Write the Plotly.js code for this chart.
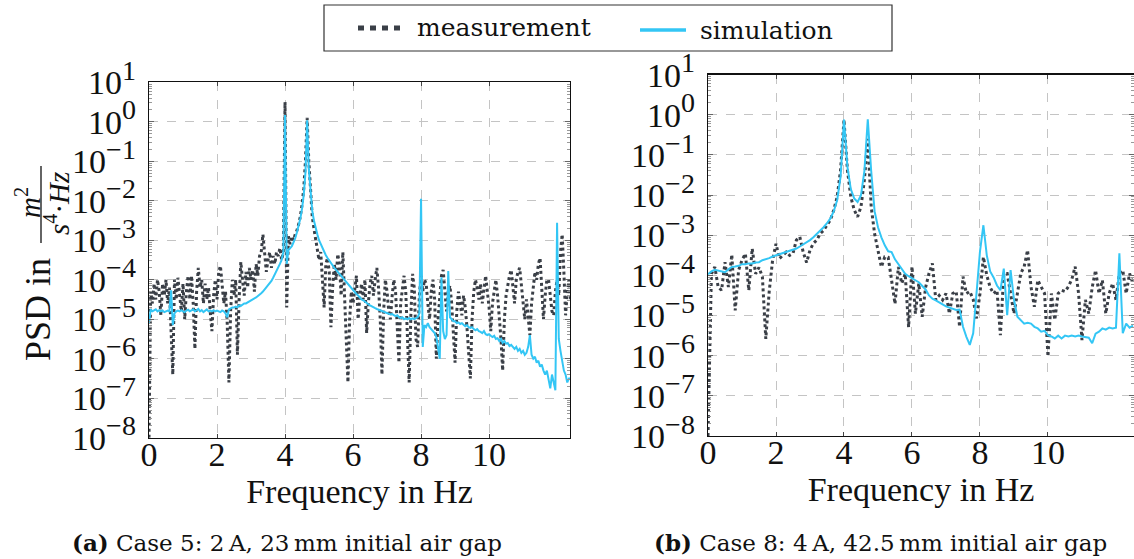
<!DOCTYPE html>
<html>
<head>
<meta charset="utf-8">
<script src="https://cdn.plot.ly/plotly-3.0.1.min.js"></script>
<style>html,body{margin:0;padding:0;background:#fff;}#chart{width:1134px;height:559px;}</style>
</head>
<body>
<div id="chart"></div>
<script>
// ---- data (log10 of PSD) ----
// Case 5 (left): measurement, frequency step 0.05 Hz starting at 0 Hz
const measA_log10 = [
 -8.0,-4.3,-4.6,-4.1,-4.5,-4.0,-4.3,-4.9,-4.1,-4.4,-4.0,-4.6,-4.2,-5.2,-6.4,-4.0,-4.5,-3.95,-4.3,-4.8,
 -4.1,-5.0,-4.3,-3.9,-4.5,-3.9,-4.6,-5.75,-4.3,-3.7,-4.2,-4.0,-4.6,-4.1,-4.5,-4.2,-4.8,-5.3,-4.4,-4.0,
 -4.5,-3.8,-3.65,-4.2,-4.6,-4.3,-5.1,-6.6,-4.8,-4.0,-4.4,-4.0,-5.9,-4.5,-3.55,-4.0,-4.4,-3.8,-4.2,-3.7,
 -4.0,-3.75,-4.3,-3.6,-3.9,-3.4,-3.3,-2.85,-3.3,-3.8,-3.5,-3.3,-3.7,-3.4,-3.6,-3.3,-3.4,-3.2,-3.5,-3.3,
 0.5,-4.7,-2.9,-3.1,-2.9,-3.0,-2.85,-2.75,-2.6,-2.4,-2.1,-1.7,-1.0,0.1,-1.0,-1.8,-2.4,-2.7,-3.0,-3.2,
 -3.5,-3.3,-3.9,-4.7,-3.6,-3.45,-3.8,-5.2,-4.2,-3.6,-4.0,-3.35,-3.6,-4.4,-3.3,-4.5,-5.8,-6.6,-5.0,-4.3,
 -4.6,-4.2,-3.9,-5.0,-4.4,-4.1,-4.5,-4.0,-5.35,-4.6,-4.1,-3.9,-4.4,-4.0,-3.7,-4.2,-5.0,-6.4,-4.8,-4.0,
 -4.3,-4.8,-5.0,-4.4,-4.0,-4.3,-5.3,-6.1,-4.6,-4.2,-3.9,-4.3,-5.4,-6.6,-4.9,-3.85,-4.2,-5.5,-5.7,-4.4,
 -3.9,-4.3,-4.0,-4.1,-4.6,-5.0,-4.3,-4.0,-4.5,-6.0,-5.0,-4.3,-3.9,-3.75,-4.2,-4.8,-4.3,-4.15,-4.6,-5.4,
 -6.1,-4.8,-4.3,-4.6,-4.9,-4.4,-4.7,-5.2,-5.8,-6.5,-5.0,-4.3,-4.0,-4.2,-4.5,-4.1,-4.6,-4.2,-3.9,-4.3,
 -4.7,-5.3,-4.6,-4.3,-4.0,-4.4,-4.9,-5.5,-6.3,-5.0,-4.4,-4.1,-3.9,-3.75,-4.2,-4.6,-4.0,-3.8,-3.7,-4.2,
 -4.7,-5.0,-4.5,-4.9,-5.4,-4.6,-4.1,-3.8,-4.0,-3.6,-3.45,-4.1,-5.0,-4.4,-4.0,-4.0,-4.4,-4.8,-4.9,-4.3,
 -4.0,-4.4,-3.3,-2.85,-3.8,-4.9,-4.3,-4.0,-4.5
];
// Case 5 (left): simulation, frequency step 0.05 Hz starting at 0 Hz
const simA_log10 = [
 -5.1,-4.75,-4.8,-4.78,-4.75,-4.8,-4.77,-4.8,-4.78,-4.82,-4.8,-4.78,-4.8,-4.27,-5.15,-4.85,-4.8,-4.78,-4.8,-4.77,
 -4.8,-4.82,-4.78,-4.76,-4.8,-4.77,-4.75,-4.8,-4.78,-4.74,-4.8,-4.77,-4.82,-4.78,-4.75,-4.8,-4.78,-4.8,-4.77,-4.8,
 -4.78,-4.8,-4.82,-4.78,-4.8,-4.85,-4.95,-4.75,-4.72,-4.7,-4.7,-4.68,-4.7,-4.65,-4.66,-4.62,-4.6,-4.6,-4.57,-4.55,
 -4.52,-4.5,-4.47,-4.45,-4.42,-4.38,-4.34,-4.3,-4.25,-4.2,-4.15,-4.1,-4.03,-3.95,-3.87,-3.78,-3.7,-3.6,-3.5,-3.3,
 0.17,-3.6,-3.25,-3.2,-3.15,-3.05,-2.95,-2.8,-2.65,-2.45,-2.2,-1.85,-1.3,0.04,-1.2,-1.85,-2.25,-2.5,-2.7,-2.85,
 -3.0,-3.1,-3.2,-3.3,-3.38,-3.45,-3.52,-3.58,-3.64,-3.7,-3.75,-3.8,-3.86,-3.92,-3.97,-4.02,-4.08,-4.13,-4.18,-4.22,
 -4.27,-4.32,-4.36,-4.4,-4.45,-4.5,-4.52,-4.56,-4.6,-4.62,-4.65,-4.68,-4.7,-4.72,-4.74,-4.76,-4.78,-4.8,-4.82,-4.83,
 -4.85,-4.86,-4.88,-4.87,-4.9,-4.92,-4.9,-4.95,-4.97,-4.95,-5.0,-4.98,-5.0,-4.97,-5.0,-4.98,-5.0,-4.97,-4.95,-4.85,
 -1.95,-5.7,-5.15,-5.2,-5.1,-5.2,-5.25,-5.3,-5.35,-5.45,-5.7,-6.0,-3.94,-5.3,-5.5,-5.4,-3.78,-4.95,-5.0,-5.05,
 -5.05,-5.1,-5.08,-5.12,-5.1,-5.15,-5.18,-5.15,-5.2,-5.22,-5.2,-5.25,-5.28,-5.25,-5.3,-5.32,-5.35,-5.3,-5.38,-5.4,
 -5.38,-5.42,-5.45,-5.42,-5.5,-5.48,-5.55,-5.5,-5.6,-5.55,-5.62,-5.6,-5.68,-5.65,-5.7,-5.75,-5.7,-5.8,-5.75,-5.85,
 -5.8,-5.9,-5.85,-5.7,-5.4,-5.9,-6.0,-5.95,-6.1,-6.05,-6.2,-6.15,-6.3,-6.4,-6.3,-6.5,-6.75,-6.4,-6.6,-6.8,
 -2.56,-5.5,-5.8,-6.1,-6.3,-6.4,-6.6,-6.5,-6.5
];
// Case 8 (right): measurement, frequency step 0.1 Hz starting at 0 Hz
const measB_log10 = [
 -8.0,-3.96,-3.79,-4.29,-4.37,-3.67,-4.29,-3.48,-4.87,-3.87,
 -3.62,-3.46,-4.37,-3.33,-3.96,-3.8,-4.04,-5.58,-4.4,-3.62,
 -3.21,-3.58,-3.5,-3.42,-3.5,-3.45,-3.12,-3.04,-3.42,-3.68,
 -3.37,-3.2,-3.12,-2.96,-2.88,-2.75,-2.62,-2.37,-2.04,-1.37,
 -0.12,-1.37,-2.04,-2.37,-2.54,-2.29,-1.62,-0.6,-2.29,-2.96,
 -3.37,-3.79,-3.54,-3.55,-4.12,-4.71,-3.79,-4.2,-3.96,-5.29,
 -3.78,-4.95,-4.2,-5.03,-4.3,-3.95,-3.7,-4.61,-4.5,-4.61,
 -4.45,-4.95,-4.45,-4.4,-5.28,-4.03,-4.45,-4.4,-4.6,-5.07,
 -4.45,-3.54,-4.0,-4.3,-4.45,-4.37,-5.49,-3.95,-3.95,-4.5,
 -4.95,-4.45,-3.95,-3.78,-3.37,-4.28,-4.78,-4.12,-4.3,-4.45,
 -6.02,-4.45,-5.11,-4.45,-4.37,-4.4,-4.28,-4.1,-3.78,-4.45,
 -5.61,-4.61,-4.95,-4.3,-3.87,-4.45,-4.12,-4.95,-4.45,-4.2,
 -4.61,-3.95,-3.87,-4.45,-3.95,-4.2
];
// Case 8 (right): simulation, frequency step 0.1 Hz starting at 0 Hz
const simB_log10 = [
 -3.97,-3.9,-3.86,-3.88,-3.9,-3.92,-3.85,-3.79,-3.78,-3.76,
 -3.72,-3.72,-3.7,-3.7,-3.68,-3.67,-3.62,-3.6,-3.57,-3.53,
 -3.5,-3.47,-3.45,-3.42,-3.4,-3.37,-3.33,-3.28,-3.23,-3.18,
 -3.12,-3.05,-2.97,-2.89,-2.8,-2.7,-2.58,-2.4,-2.12,-1.54,
 -0.12,-1.29,-1.85,-2.08,-2.17,-2.0,-1.4,-0.11,-1.4,-2.4,
 -2.8,-3.05,-3.25,-3.4,-3.42,-3.6,-3.71,-3.85,-3.96,-4.02,
 -4.08,-4.12,-4.17,-4.25,-4.35,-4.5,-4.58,-4.62,-4.66,-4.72,
 -4.77,-4.8,-4.83,-4.86,-4.85,-5.28,-5.53,-5.73,-5.44,-4.45,
 -3.4,-2.75,-3.5,-3.9,-4.05,-4.25,-4.37,-3.83,-4.99,-3.87,
 -4.6,-5.03,-5.12,-5.2,-5.18,-5.2,-5.28,-5.32,-5.4,-5.38,
 -5.49,-5.52,-5.57,-5.5,-5.57,-5.5,-5.52,-5.5,-5.52,-5.5,
 -5.52,-5.53,-5.55,-5.69,-5.45,-5.4,-5.32,-5.35,-5.3,-5.32,
 -5.3,-3.45,-5.44,-5.2,-5.3,-5.25
];
const xTickVals = [0, 2, 4, 6, 8, 10];
const yTickExponents = [-8, -7, -6, -5, -4, -3, -2, -1, 0, 1];
const seriesNames = ['measurement', 'simulation'];
const captionA = '<b>(a)</b> Case 5: 2\u2009A, 23\u2009mm initial air gap';
const captionB = '<b>(b)</b> Case 8: 4\u2009A, 42.5\u2009mm initial air gap';

// ---- styling ----
const W = 1134, H = 559;
const px = v => v / W, py = v => 1 - v / H;
const MEAS_COLOR = '#3a3f47', SIM_COLOR = '#33c6f5';
const SERIF = 'Liberation Serif, DejaVu Serif, serif';
const TEXTFONT = 'DejaVu Serif, serif';
const toVal = arr => arr.map(v => Math.pow(10, v));

const traces = [
  {x0: 0, dx: 0.05, y: toVal(measA_log10), type: 'scatter', mode: 'lines', name: seriesNames[0],
   line: {color: MEAS_COLOR, width: 3, dash: 'dot'}, xaxis: 'x', yaxis: 'y', showlegend: false},
  {x0: 0, dx: 0.05, y: toVal(simA_log10), type: 'scatter', mode: 'lines', name: seriesNames[1],
   line: {color: SIM_COLOR, width: 2}, xaxis: 'x', yaxis: 'y', showlegend: false},
  {x0: 0, dx: 0.1, y: toVal(measB_log10), type: 'scatter', mode: 'lines', name: seriesNames[0],
   line: {color: MEAS_COLOR, width: 3, dash: 'dot'}, xaxis: 'x2', yaxis: 'y2', showlegend: false},
  {x0: 0, dx: 0.1, y: toVal(simB_log10), type: 'scatter', mode: 'lines', name: seriesNames[1],
   line: {color: SIM_COLOR, width: 2}, xaxis: 'x2', yaxis: 'y2', showlegend: false}
];

const tickFont = {family: SERIF, size: 34, color: '#111'};
const yTickVals = yTickExponents.map(e => Math.pow(10, e));
const yTickText = yTickExponents.map(e =>
  '10<sup><span style="font-size:28px">' + (e < 0 ? '\u2212' + (-e) : e) + '</span></sup>');

function xAxis(domain, range, anchor) {
  return {domain, range, anchor, tickvals: xTickVals, ticks: 'inside', ticklen: 4, tickcolor: '#444',
    showline: true, linecolor: '#111', linewidth: 1.3, mirror: 'ticks',
    showgrid: true, gridcolor: '#c4c4c4', griddash: 'dash', gridwidth: 1, zeroline: false,
    tickfont: tickFont, ticklabelstandoff: -14,
    title: {text: 'Frequency in Hz', font: {family: SERIF, size: 34, color: '#111'}, standoff: 0}};
}
function yAxis(domain, anchor) {
  return {domain, anchor, type: 'log', range: [-8, 1], tickvals: yTickVals, ticktext: yTickText,
    ticks: 'inside', ticklen: 5, tickcolor: '#666',
    minor: {dtick: 'D1', ticks: 'inside', ticklen: 3, tickcolor: '#999', showgrid: false},
    showline: true, linecolor: '#111', linewidth: 1.3, mirror: 'allticks',
    showgrid: true, gridcolor: '#c4c4c4', griddash: 'dash', gridwidth: 1, zeroline: false,
    tickfont: tickFont, ticklabelstandoff: 5};
}

const layout = {
  width: W, height: H, margin: {l: 0, r: 0, t: 0, b: 0}, autosize: false,
  paper_bgcolor: '#fff', plot_bgcolor: '#fff',
  font: {family: SERIF, color: '#111'},
  showlegend: false,
  xaxis: xAxis([px(149), px(570)], [0, 12.38], 'y'),
  yaxis: yAxis([py(437.7), py(82.3)], 'x'),
  xaxis2: xAxis([px(708), 1], [0, 12.53], 'y2'),
  yaxis2: yAxis([py(436), py(74.7)], 'x2'),
  shapes: [
    // legend box and samples
    {type: 'rect', xref: 'paper', yref: 'paper', x0: px(324), x1: px(892), y0: py(51), y1: py(5),
     line: {color: '#333', width: 1.2}, fillcolor: '#fff'},
    {type: 'line', xref: 'paper', yref: 'paper', x0: px(358), x1: px(404), y0: py(28), y1: py(28),
     line: {color: MEAS_COLOR, width: 5, dash: '6px,6px'}},
    {type: 'line', xref: 'paper', yref: 'paper', x0: px(640), x1: px(686), y0: py(30), y1: py(30),
     line: {color: SIM_COLOR, width: 3.5}},
    // fraction bar of the y title
    {type: 'line', xref: 'paper', yref: 'paper', x0: px(41), x1: px(41), y0: py(166), y1: py(243),
     line: {color: '#111', width: 1.3}}
  ],
  annotations: [
    {text: seriesNames[0], xref: 'paper', yref: 'paper', x: px(415), y: py(28), xanchor: 'left', yanchor: 'middle',
     showarrow: false, font: {family: TEXTFONT, size: 25, color: '#111'}},
    {text: seriesNames[1], xref: 'paper', yref: 'paper', x: px(698), y: py(30), xanchor: 'left', yanchor: 'middle',
     showarrow: false, font: {family: TEXTFONT, size: 25, color: '#111'}},
    {text: 'PSD in', xref: 'paper', yref: 'paper', x: px(38), y: py(310), xanchor: 'center', yanchor: 'middle',
     textangle: -90, showarrow: false, font: {family: SERIF, size: 36, color: '#111'}},
    {text: '<i>m</i><sup>2</sup>', xref: 'paper', yref: 'paper', x: px(28), y: py(203), xanchor: 'center', yanchor: 'middle',
     textangle: -90, showarrow: false, font: {family: SERIF, size: 29, color: '#111'}},
    {text: '<i>s</i><sup>4</sup>·<i>Hz</i>', xref: 'paper', yref: 'paper', x: px(57), y: py(204), xanchor: 'center', yanchor: 'middle',
     textangle: -90, showarrow: false, font: {family: SERIF, size: 29, color: '#111'}},
    {text: captionA, xref: 'paper', yref: 'paper', x: px(287), y: py(542), xanchor: 'center', yanchor: 'middle',
     showarrow: false, font: {family: TEXTFONT, size: 23, color: '#111'}},
    {text: captionB, xref: 'paper', yref: 'paper', x: px(880), y: py(542), xanchor: 'center', yanchor: 'middle',
     showarrow: false, font: {family: TEXTFONT, size: 23, color: '#111'}}
  ]
};

Plotly.newPlot('chart', traces, layout, {displayModeBar: false, staticPlot: true});
</script>
</body>
</html>
